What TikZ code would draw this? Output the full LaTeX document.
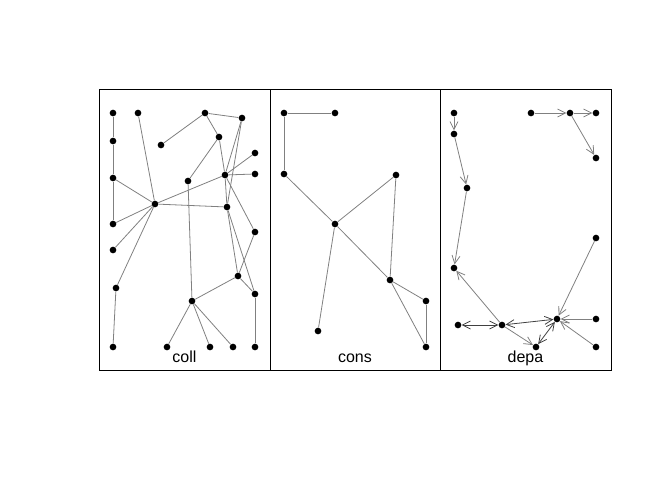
\documentclass[tikz,border=0pt]{standalone}
\usepackage{fontspec}
\setmainfont{Liberation Sans}
\usetikzlibrary{arrows.meta}
\definecolor{ink}{HTML}{000000}
\definecolor{tiegray}{HTML}{808080}
\definecolor{mutgray}{HTML}{404040}
\tikzset{
  vtx/.style={circle,fill=ink,inner sep=0pt,minimum size=5pt},
  tie/.style={draw=tiegray,line width=0.6pt},
  arc/.style={tie,-{Straight Barb[length=6pt,width=6pt]}},
  mutarc/.style={draw=mutgray,line width=0.6pt,
                 {Straight Barb[length=6pt,width=6pt]}-{Straight Barb[length=6pt,width=6pt]}},
  panel/.style={draw=ink,line width=0.75pt},
  plabel/.style={font=\fontsize{12}{14}\selectfont,anchor=base,inner sep=0pt}
}

\begin{document}
\begin{tikzpicture}[x=0.75pt,y=-0.75pt]
  \useasboundingbox (0,0) rectangle (672,480);
  % three frames
  \draw[panel] (99,89) rectangle (270,370);
  \draw[panel] (270,89) rectangle (440,370);
  \draw[panel] (440,89) rectangle (611,370);
  \node[plabel] (lcoll) at (184.5,362) {coll};
  \node[plabel] (lcons) at (355,362) {cons};
  \node[plabel] (ldepa) at (525.5,362) {depa};

  % coll
  \foreach \n/\x/\y in {c1/113/113,c2/138/113,c3/205/113,c4/242/118,c5/219/137,
      c6/113/141,c7/161/145,c8/255/153,c9/225/175,c10/255/174,c11/113/178,
      c12/188/181,c13/155/204,c14/227/207,c15/113/224,c16/255/232,c17/113/250,
      c18/238/276,c19/116/288,c20/255/294,c21/192/301,c22/113/347,c23/167/347,
      c24/210/347,c25/233/347,c26/255/347}
    \node[vtx] (\n) at (\x,\y) {};
  \foreach \a/\b in {c1/c6,c6/c11,c11/c15,c11/c13,c15/c13,c17/c13,c19/c13,
      c2/c13,c13/c9,c13/c14,c19/c22,c7/c3,c3/c4,c3/c5,c5/c12,c12/c21,c5/c9,
      c4/c9,c4/c14,c8/c9,c9/c10,c9/c16,c9/c14,c14/c18,c14/c20,c16/c18,
      c18/c21,c18/c20,c20/c26,c21/c23,c21/c24,c21/c25}
    \draw[tie] (\a) -- (\b);

  % cons
  \foreach \n/\x/\y in {s1/284/113,s2/335/113,s3/284/174,s4/396/175,
      s5/335/224,s6/390/280,s7/426/301,s8/318/331,s9/426/347}
    \node[vtx] (\n) at (\x,\y) {};
  \foreach \a/\b in {s1/s2,s1/s3,s3/s5,s5/s6,s5/s4,s4/s6,s5/s8,s6/s7,s6/s9,s7/s9}
    \draw[tie] (\a) -- (\b);

  % depa
  \foreach \n/\x/\y in {d1/454/113,d2/454/134,d3/531/113,d4/570/113,d5/596/113,
      d6/596/158,d7/467/188,d8/596/238,d9/454/268,d10/596/319,d11/557/319,
      d12/458/325,d13/502/325,d14/536/347,d15/596/347}
    \node[vtx] (\n) at (\x,\y) {};
  \foreach \a/\b in {d1/d2,d2/d7,d7/d9,d3/d4,d4/d5,d4/d6,d13/d9,d13/d14,
      d8/d11,d10/d11,d15/d11}
    \draw[arc] (\a) -- (\b);
  \foreach \a/\b in {d12/d13,d13/d11,d14/d11}
    \draw[mutarc] (\a) -- (\b);
\end{tikzpicture}
\end{document}
